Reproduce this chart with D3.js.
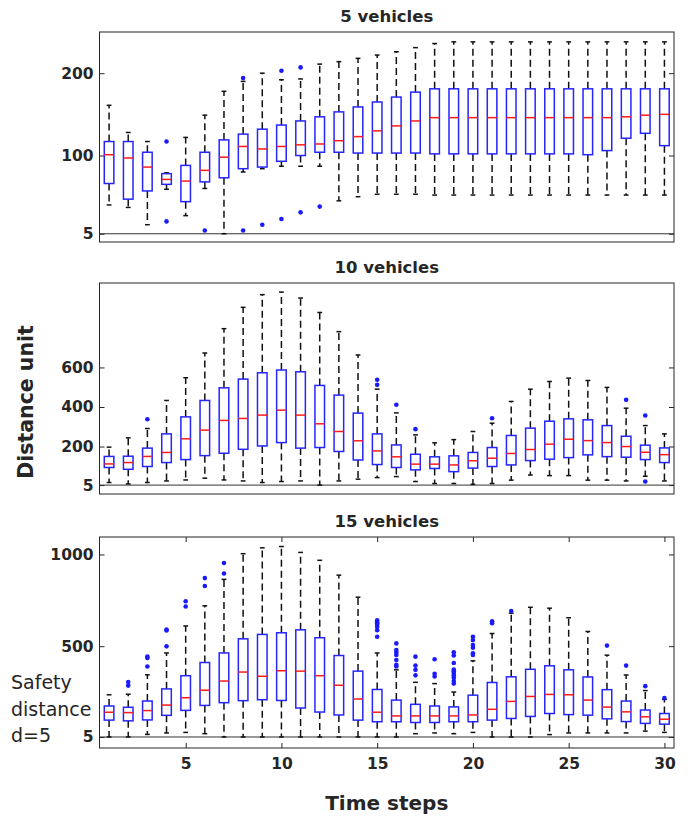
<!DOCTYPE html>
<html lang="en">
<head>
<meta charset="UTF-8">
<title>Distance between vehicles over time steps</title>
<script src="https://d3js.org/d3.v7.min.js"></script>
<style>
    body { margin: 0; background: #fff; }
    svg text { font-family: "DejaVu Sans", sans-serif; fill: #262626; }
</style>
</head>
<body>
<div id="chart"></div>
<script>
const width = 694;
const height = 821;

const steps = [1,2,3,4,5,6,7,8,9,10,11,12,13,14,15,16,17,18,19,20,21,22,23,24,25,26,27,28,29,30];

// 5 vehicles
const lo5  = [40,37,16,59,27,60,5,80,84,87,87,87,45,50,53,53,53,52,52,52,52,52,52,52,52,52,52,52,52,52];
const q1_5 = [66,47,57,65,44,68,73,84,86,93,100,104,104,103,103,103,103,102,102,102,102,102,102,102,102,101,106,121,127,112];
const med5 = [101,97,86,71,69,82,98,111,108,111,113,114,118,123,130,136,142,146,146,146,146,146,146,146,146,146,146,147,149,150];
const q3_5 = [117,117,104,78,88,104,119,126,132,137,142,147,153,159,165,171,177,181,181,181,181,181,181,181,181,181,181,181,181,181];
const hi5  = [161,128,117,79,122,149,178,190,200,192,193,211,214,218,222,226,231,236,238,238,238,238,238,238,238,238,238,238,238,238];
const out5 = [[4,117],[4,20],[6,9],[8,194],[8,9],[9,16],[10,203],[10,23],[11,207],[11,31],[12,38]];

// 10 vehicles
const lo10  = [18,11,18,26,31,40,31,26,18,23,26,5,26,35,43,48,23,13,13,9,13,30,56,53,53,30,30,26,50,26];
const q1_10 = [94,85,99,119,134,154,166,186,203,220,192,195,175,132,109,94,82,89,73,91,99,107,129,136,144,158,149,146,134,119];
const med10 = [112,119,150,170,239,283,332,342,359,384,359,315,276,229,178,148,111,111,107,128,141,165,185,212,237,230,220,200,171,159];
const q3_10 = [150,151,192,264,350,433,497,541,573,587,578,509,460,369,264,208,161,148,153,170,195,256,293,328,340,335,306,252,207,193];
const hi10  = [197,244,291,433,548,673,796,904,968,981,951,878,781,663,490,370,259,219,235,276,318,428,490,529,546,534,499,394,306,264];
const out10 = [[3,338],[15,538],[15,512],[16,411],[17,288],[21,343],[28,436],[29,357],[29,23]];

// 15 vehicles
const lo15  = [5,5,19,27,30,23,5,5,5,5,5,5,5,5,5,5,23,27,23,30,5,5,5,18,27,27,27,27,37,30];
const q1_15 = [97,93,98,123,150,177,192,203,208,204,163,141,125,97,88,88,84,84,88,88,97,106,117,133,127,124,104,89,79,75];
const med15 = [140,138,149,179,219,260,310,359,336,366,364,339,287,212,140,120,120,120,120,125,156,199,226,237,235,206,168,142,115,102];
const q3_15 = [174,167,201,267,339,411,463,540,564,573,589,546,449,364,264,206,183,174,169,233,302,333,374,393,371,332,263,201,152,133];
const hi15  = [235,238,344,463,610,720,864,1004,1036,1043,1011,968,887,767,463,371,303,296,250,420,569,680,712,707,655,580,451,343,258,210];
const out15 = [[2,305],[2,285],[3,443],[3,436],[3,389],[4,590],[4,585],[4,499],[5,745],[5,716],
    [6,871],[6,828],[7,953],[7,896],
    [15,641],[15,630],[15,623],[15,615],[15,605],[15,587],[15,551],
    [16,515],[16,479],[16,465],[16,452],[16,425],[16,398],[16,389],
    [17,443],[17,394],[17,371],[17,341],[18,429],[18,350],[18,335],
    [19,467],[19,449],[19,408],[19,372],[19,363],[19,354],[19,341],[19,328],[19,310],[19,296],
    [20,551],[20,533],[20,506],[20,492],[20,461],[20,452],
    [21,636],[21,625],[22,692],[27,503],[28,394],[29,282],[30,217]];

const xTicks = [5, 10, 15, 20, 25, 30];

const panels = [
    { title: "5 vehicles",  lo: lo5,  q1: q1_5,  med: med5,  q3: q3_5,  hi: hi5,  out: out5,
      domain: [-5, 250],  ticks: [5, 100, 200],       top: 32,  bottom: 242, xLabels: false },
    { title: "10 vehicles", lo: lo10, q1: q1_10, med: med10, q3: q3_10, hi: hi10, out: out10,
      domain: [-40, 1027], ticks: [5, 200, 400, 600], top: 283, bottom: 494, xLabels: false },
    { title: "15 vehicles", lo: lo15, q1: q1_15, med: med15, q3: q3_15, hi: hi15, out: out15,
      domain: [-55, 1095], ticks: [5, 500, 1000],     top: 537, bottom: 748, xLabels: true }
];

const svg = d3.select("#chart").append("svg")
    .attr("width", width)
    .attr("height", height);

const x = d3.scaleLinear().domain([0.5, 30.5]).range([99.5, 674]);
const [xl, xr] = x.range();
const bw = x(1.25) - x(1);   // half box width
const cw = x(1.125) - x(1);  // half cap width

function styleAxis(a) {
    a.select(".domain").remove();
    a.selectAll(".tick line").attr("stroke", "#262626");
    a.selectAll("text")
        .attr("font-family", "DejaVu Sans")
        .attr("font-weight", "bold")
        .attr("font-size", 15.5)
        .attr("fill", "#262626");
}

panels.forEach(p => {
    const y = d3.scaleLinear().domain(p.domain).range([p.bottom, p.top]);
    const g = svg.append("g");

    g.append("text")
        .attr("x", (xl + xr) / 2)
        .attr("y", p.top - 10)
        .attr("text-anchor", "middle")
        .attr("font-weight", "bold")
        .attr("font-size", 16.5)
        .text(p.title);

    // left / right ticks
    g.append("g").attr("transform", `translate(${xl},0)`)
        .call(d3.axisLeft(y).tickValues(p.ticks).tickSize(-5).tickPadding(6).tickFormat(d3.format("d")))
        .call(styleAxis);
    g.append("g").attr("transform", `translate(${xr},0)`)
        .call(d3.axisRight(y).tickValues(p.ticks).tickSize(-5).tickFormat(""))
        .call(styleAxis);

    if (p.xLabels) {
        g.append("g").attr("transform", `translate(0,${p.bottom})`)
            .call(d3.axisBottom(x).tickValues(xTicks).tickSize(-5).tickPadding(10))
            .call(styleAxis);
        g.append("g").attr("transform", `translate(0,${p.top})`)
            .call(d3.axisTop(x).tickValues(xTicks).tickSize(-5).tickFormat(""))
            .call(styleAxis);
    }

    // safety distance line
    g.append("line")
        .attr("x1", xl).attr("x2", xr)
        .attr("y1", y(5)).attr("y2", y(5))
        .attr("stroke", "#333").attr("stroke-width", 1);

    const box = g.selectAll(".box")
        .data(steps.map((s, i) => ({ s, lo: p.lo[i], q1: p.q1[i], med: p.med[i], q3: p.q3[i], hi: p.hi[i] })))
        .join("g").attr("class", "box");

    // whiskers
    box.append("line")
        .attr("x1", d => x(d.s)).attr("x2", d => x(d.s))
        .attr("y1", d => y(d.q3)).attr("y2", d => y(d.hi))
        .attr("stroke", "#111").attr("stroke-width", 1.5).attr("stroke-dasharray", "7,4");
    box.append("line")
        .attr("x1", d => x(d.s)).attr("x2", d => x(d.s))
        .attr("y1", d => y(d.q1)).attr("y2", d => y(d.lo))
        .attr("stroke", "#111").attr("stroke-width", 1.5).attr("stroke-dasharray", "7,4");
    // caps
    box.append("line")
        .attr("x1", d => x(d.s) - cw).attr("x2", d => x(d.s) + cw)
        .attr("y1", d => y(d.hi)).attr("y2", d => y(d.hi))
        .attr("stroke", "#111").attr("stroke-width", 1.5);
    box.append("line")
        .attr("x1", d => x(d.s) - cw).attr("x2", d => x(d.s) + cw)
        .attr("y1", d => y(d.lo)).attr("y2", d => y(d.lo))
        .attr("stroke", "#111").attr("stroke-width", 1.5);
    // box
    box.append("rect")
        .attr("x", d => x(d.s) - bw)
        .attr("width", 2 * bw)
        .attr("y", d => y(d.q3))
        .attr("height", d => y(d.q1) - y(d.q3))
        .attr("fill", "#fff")
        .attr("stroke", "#2525ff").attr("stroke-width", 1.5);
    // median
    box.append("line")
        .attr("x1", d => x(d.s) - bw).attr("x2", d => x(d.s) + bw)
        .attr("y1", d => y(d.med)).attr("y2", d => y(d.med))
        .attr("stroke", "#ff1a1a").attr("stroke-width", 1.5);

    // outliers
    g.selectAll(".out")
        .data(p.out)
        .join("circle")
        .attr("cx", d => x(d[0]))
        .attr("cy", d => y(d[1]))
        .attr("r", 2.3)
        .attr("fill", "#1a1aff");

    // frame
    g.append("rect")
        .attr("x", xl).attr("y", p.top)
        .attr("width", xr - xl).attr("height", p.bottom - p.top)
        .attr("fill", "none").attr("stroke", "#262626").attr("stroke-width", 1);
});

svg.append("text")
    .attr("transform", "translate(33,402) rotate(-90)")
    .attr("text-anchor", "middle")
    .attr("font-family", "Liberation Sans")
    .attr("font-weight", "bold")
    .attr("font-size", 20.5)
    .text("Distance unit");

svg.append("text")
    .attr("x", (xl + xr) / 2)
    .attr("y", 810)
    .attr("text-anchor", "middle")
    .attr("font-weight", "bold")
    .attr("font-size", 20)
    .text("Time steps");

const note = svg.append("text")
    .attr("x", 11)
    .attr("font-size", 19)
    .attr("fill", "#1a1a1a");
["Safety", "distance", "d=5"].forEach((t, i) => {
    note.append("tspan").attr("x", 11).attr("y", 689 + i * 26.5).text(t);
});
</script>
</body>
</html>
